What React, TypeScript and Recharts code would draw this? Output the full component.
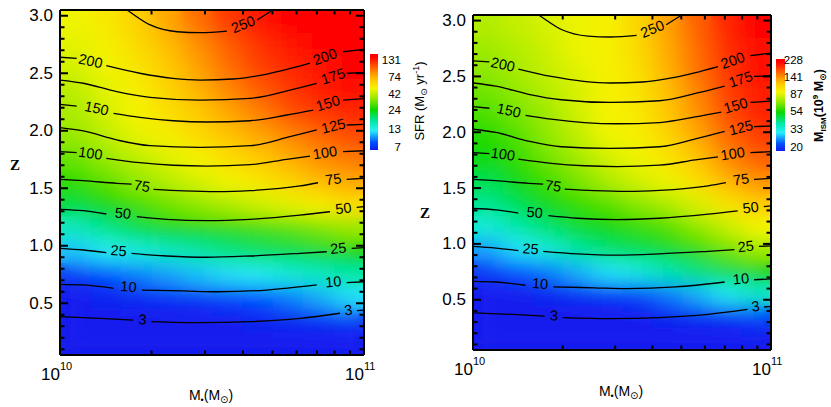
import React from 'react';
import { ComposedChart, Scatter, Line, XAxis, YAxis } from 'recharts';

const SANS = '"Liberation Sans", Arial, "DejaVu Sans", sans-serif';
const SERIF = '"Liberation Serif", "Times New Roman", serif';

// centres of the colour-map cells: stellar mass in 10^10 Msun, redshift
const gridMass = [1.122, 1.413, 1.778, 2.239, 2.818, 3.548, 4.467, 5.623, 7.079, 8.913];
const gridZ = [2.95, 2.75, 2.55, 2.35, 2.15, 1.95, 1.75, 1.55, 1.35, 1.15, 0.95, 0.75, 0.55, 0.35, 0.15];

// SFR (Msun/yr), one row per gridZ entry
const sfrGrid = [
  [45, 49, 56, 67, 83, 99, 111, 118, 122, 126],
  [43, 47, 53, 62, 74, 88, 102, 111, 118, 122],
  [41, 45, 50, 58, 69, 83, 96, 105, 111, 118],
  [38, 43, 47, 55, 64, 76, 88, 99, 108, 115],
  [36, 41, 46, 52, 58, 67, 78, 91, 99, 105],
  [34, 38, 43, 47, 53, 60, 67, 76, 85, 93],
  [30, 34, 38, 42, 46, 52, 58, 65, 74, 80],
  [26, 29, 33, 37, 41, 45, 49, 55, 62, 67],
  [21, 24, 27, 30, 33, 36, 40, 43, 47, 52],
  [15.3, 17.9, 20.7, 23.2, 24.6, 25.4, 26.9, 28.5, 31.1, 34.1],
  [11.4, 12.9, 13.7, 15.3, 16.9, 18.4, 19.6, 20.7, 21.9, 23.9],
  [7.8, 8.6, 9.7, 10.5, 11.4, 12.2, 12.9, 14.1, 15.3, 16.9],
  [7, 7.2, 7.4, 7.6, 7.8, 8.3, 8.8, 9.7, 10.8, 12.2],
  [7, 7, 7, 7, 7, 7, 7.2, 7.3, 7.5, 7.8],
  [7, 7, 7, 7, 7, 7, 7, 7, 7, 7],
];

// M_ISM (10^9 Msun), one row per gridZ entry
const ismGrid = [
  [80, 84, 88, 93, 97, 110, 134, 162, 192, 212],
  [76, 80, 86, 93, 97, 107, 130, 158, 188, 207],
  [73, 78, 84, 90, 97, 105, 127, 155, 183, 202],
  [68, 74, 80, 88, 97, 102, 121, 147, 179, 197],
  [63, 69, 76, 86, 95, 100, 118, 140, 170, 192],
  [58, 64, 73, 82, 93, 97, 110, 130, 158, 179],
  [54, 60, 68, 76, 86, 93, 102, 118, 144, 162],
  [48, 54, 61, 69, 78, 86, 93, 105, 124, 140],
  [43, 48, 54, 60, 64, 71, 78, 88, 102, 115],
  [36, 41, 46, 52, 56, 60, 64, 73, 84, 95],
  [28, 32, 36, 42, 46, 49, 53, 60, 68, 76],
  [22, 24, 26, 29, 32, 35, 40, 45, 50, 56],
  [20, 20, 20.5, 21, 22, 23, 26, 29, 33, 38],
  [20, 20, 20, 20, 20, 20, 20.5, 21, 21.5, 23],
  [20, 20, 20, 20, 20, 20, 20, 20, 20, 20],
];

const sfrBarTicks = [7, 13, 24, 42, 74, 131];
const ismBarTicks = [20, 33, 54, 87, 141, 228];

const massDomain = [1, 10];
const zDomain = [0.05, 3.05];
const massTicks = [1, 2, 3, 4, 5, 6, 7, 8, 9, 10];
const massLabels = [1, 10];
const massExponents = ['10', '11'];
const zTicks = [
  0.1, 0.2, 0.3, 0.4, 0.5, 0.6, 0.7, 0.8, 0.9, 1.0,
  1.1, 1.2, 1.3, 1.4, 1.5, 1.6, 1.7, 1.8, 1.9, 2.0,
  2.1, 2.2, 2.3, 2.4, 2.5, 2.6, 2.7, 2.8, 2.9, 3.0,
];
const zLabels = [0.5, 1.0, 1.5, 2.0, 2.5, 3.0];

// contours [M/1e10, z]; a null z leaves the gap where the level label sits
const contour250 = [[1.55, 3.1], [1.66, 3.05], [1.98, 2.92], [2.43, 2.861], [2.89, 2.853], [3.54, 2.867], [4.0, null], [4.45, 2.963], [4.91, 3.035], [5.37, 3.1]];
const contour200 = [[1, 2.639], [1.135, 2.63], [1.26, null], [1.42, 2.566], [1.83, 2.5], [2.35, 2.456], [2.89, 2.441], [3.71, 2.45], [4.8, 2.493], [6.64, 2.587], [7.44, null], [8.53, 2.687], [10, 2.708]];
const contour175 = [[1, 2.441], [1.193, 2.413], [1.537, 2.34], [1.977, 2.291], [2.89, 2.267], [4.22, 2.282], [5.71, 2.354], [6.99, 2.413], [7.91, null], [8.77, 2.5], [10, 2.505]];
const contour150 = [[1, 2.23], [1.135, 2.215], [1.32, null], [1.5, 2.152], [1.83, 2.117], [2.36, 2.087], [3.04, 2.076], [4.22, 2.087], [5.57, 2.137], [6.81, 2.18], [7.61, null], [8.53, 2.267], [10, 2.279]];
const contour125 = [[1, 2.027], [1.193, 1.998], [1.537, 1.92], [1.977, 1.87], [2.89, 1.856], [4.22, 1.87], [5.71, 1.948], [6.99, 2.007], [7.93, null], [8.77, 2.05], [10, 2.056]];
const contour100 = [[1, 1.818], [1.135, 1.809], [1.26, null], [1.42, 1.76], [1.83, 1.722], [2.36, 1.7], [3.04, 1.693], [4.22, 1.705], [5.57, 1.752], [6.64, 1.78], [7.44, null], [8.53, 1.818], [10, 1.826]];
const contour75 = [[1, 1.578], [1.193, 1.566], [1.537, 1.543], [1.72, 1.535], [1.86, null], [2.03, 1.491], [2.55, 1.477], [3.28, 1.47], [4.22, 1.479], [6.16, 1.52], [7.06, 1.548], [7.93, null], [8.77, 1.578], [10, 1.587]];
const contour50 = [[1, 1.317], [1.193, 1.305], [1.42, 1.276], [1.61, null], [1.79, 1.253], [2.24, 1.23], [3.04, 1.218], [4.22, 1.23], [6.16, 1.267], [7.73, 1.296], [8.55, null], [9.46, 1.334], [10, 1.34]];
const contour25 = [[1, 0.978], [1.193, 0.963], [1.42, 0.94], [1.56, null], [1.72, 0.934], [2.24, 0.911], [3.04, 0.9], [4.22, 0.911], [6.16, 0.934], [7.54, 0.948], [8.23, null], [9.11, 0.978], [10, 0.983]];
const contour10 = [[1, 0.665], [1.193, 0.659], [1.5, 0.63], [1.68, null], [1.86, 0.615], [2.55, 0.607], [3.28, 0.6], [4.79, 0.615], [6.99, 0.659], [7.93, null], [8.77, 0.679], [10, 0.687]];
const contour3 = [[1, 0.383], [1.354, 0.369], [1.74, 0.354], [1.87, null], [2.0, 0.34], [2.89, 0.331], [4.22, 0.34], [6.16, 0.369], [8.34, 0.413], [8.88, null], [9.48, 0.435], [10, 0.44]];
const contours = [contour250, contour200, contour175, contour150, contour125, contour100, contour75, contour50, contour25, contour10, contour3];

const contourLabels = [
  { text: '250', m: 4.0, z: 2.925 },
  { text: '200', m: 1.26, z: 2.607 },
  { text: '200', m: 7.44, z: 2.644 },
  { text: '175', m: 7.91, z: 2.474 },
  { text: '150', m: 1.32, z: 2.195 },
  { text: '150', m: 7.61, z: 2.239 },
  { text: '125', m: 7.93, z: 2.041 },
  { text: '100', m: 1.26, z: 1.804 },
  { text: '100', m: 7.44, z: 1.809 },
  { text: '75', m: 1.86, z: 1.52 },
  { text: '75', m: 7.93, z: 1.578 },
  { text: '50', m: 1.61, z: 1.282 },
  { text: '50', m: 8.55, z: 1.326 },
  { text: '25', m: 1.56, z: 0.957 },
  { text: '25', m: 8.23, z: 0.978 },
  { text: '10', m: 1.68, z: 0.644 },
  { text: '10', m: 7.93, z: 0.687 },
  { text: '3', m: 1.87, z: 0.36 },
  { text: '3', m: 8.88, z: 0.441 },
];
// rotation of each label (deg), same order as contourLabels
const labelTilt = [-22, 12, -20, -18, 12, -17, -14, 8, -9, 8, -8, 5, -7, 4, -6, 4, -5, 3, -8];

// rainbow colour table [t, r, g, b]
const rainbow = [
  [0.0, 18, 28, 238],
  [0.08, 0, 80, 255],
  [0.2, 40, 238, 250],
  [0.3, 0, 232, 165],
  [0.42, 10, 215, 0],
  [0.53, 140, 232, 0],
  [0.64, 245, 245, 0],
  [0.73, 255, 200, 0],
  [0.81, 255, 140, 0],
  [0.89, 255, 70, 0],
  [0.97, 255, 0, 0],
  [1.0, 255, 0, 0],
];

const rampColor = (t: number) => {
  const s = Math.max(0, Math.min(1, t));
  for (let i = 1; i < rainbow.length; i++) {
    if (s <= rainbow[i][0]) {
      const a = rainbow[i - 1];
      const b = rainbow[i];
      const f = (s - a[0]) / (b[0] - a[0]);
      const c = [1, 2, 3].map(k => Math.round(a[k] + (b[k] - a[k]) * f));
      return `rgb(${c[0]},${c[1]},${c[2]})`;
    }
  }
  return 'rgb(255,0,0)';
};

// position of a value on a log colour bar
const barT = (v: number, ticks: number[]) =>
  Math.log(v / ticks[0]) / Math.log(ticks[ticks.length - 1] / ticks[0]);

const toCells = (grid: number[][]) =>
  gridZ.flatMap((z, i) => gridMass.map((m, j) => ({ m, z, v: grid[i][j] })));

// inward tick marks on the four sides of the frame
const bottomMarks = massTicks.map(m => ({ m, z: zDomain[0], major: massLabels.includes(m) }));
const topMarks = massTicks.map(m => ({ m, z: zDomain[1], major: massLabels.includes(m) }));
const leftMarks = zTicks.map(z => ({ m: massDomain[0], z, major: zLabels.includes(z) }));
const rightMarks = zTicks.map(z => ({ m: massDomain[1], z, major: zLabels.includes(z) }));
const frameLine = [
  { m: massDomain[0], z: zDomain[0] },
  { m: massDomain[1], z: zDomain[0] },
  { m: massDomain[1], z: zDomain[1] },
  { m: massDomain[0], z: zDomain[1] },
  { m: massDomain[0], z: zDomain[0] },
];

const axisStyle = { stroke: '#000', strokeWidth: 2 };
const tickStroke = 2;
const majorLen = 8;
const minorLen = 4.5;

const markShape = (dx: number, dy: number) => (p: any) => {
  const len = p.payload.major ? majorLen : minorLen;
  return (
    <path d={`M${p.cx},${p.cy}l${dx * len},${dy * len}`} stroke="#000" strokeWidth={tickStroke} fill="none" />
  );
};

const BottomTick = (p: any) => {
  const { x, y, payload } = p;
  const k = massLabels.indexOf(payload.value);
  if (k < 0) return <g />;
  return (
    <g fontFamily={SANS} fill="#000">
      <text x={x} y={y + 25} fontSize={17} textAnchor="end">10</text>
      <text x={x} y={y + 15} fontSize={11} textAnchor="start">{massExponents[k]}</text>
    </g>
  );
};

const LeftTick = (p: any) => {
  const { x, y, payload } = p;
  if (!zLabels.includes(payload.value)) return <g />;
  return (
    <text x={x - 7} y={y} textAnchor="end" dominantBaseline="central" fontSize={17} fontFamily={SANS} fill="#000">
      {payload.value.toFixed(1)}
    </text>
  );
};

const LevelLabel = (p: any) => {
  const { cx, cy, payload } = p;
  return (
    <text
      x={cx}
      y={cy}
      transform={`rotate(${payload.tilt} ${cx} ${cy})`}
      textAnchor="middle"
      dominantBaseline="central"
      fontSize={14.5}
      fontFamily={SANS}
      fill="#000"
    >
      {payload.text}
    </text>
  );
};

const labelData = contourLabels.map((l, i) => ({ ...l, tilt: labelTilt[i] }));

// the four frame axes; without marks they only reserve the same room
const frameAxes = (marks: boolean) => [
  <XAxis
    key="b"
    dataKey="m"
    type="number"
    scale="log"
    domain={massDomain}
    allowDataOverflow
    ticks={massTicks}
    interval={0}
    height={1}
    tickSize={0}
    tickMargin={0}
    tickLine={false}
    axisLine={marks ? axisStyle : false}
    tick={marks ? BottomTick : false}
  />,
  <XAxis
    key="t"
    xAxisId="top"
    orientation="top"
    type="number"
    scale="log"
    domain={massDomain}
    allowDataOverflow
    ticks={massTicks}
    interval={0}
    height={1}
    tickSize={0}
    tickMargin={0}
    tickLine={false}
    axisLine={marks ? axisStyle : false}
    tick={false}
  />,
  <YAxis
    key="l"
    dataKey="z"
    type="number"
    domain={zDomain}
    allowDataOverflow
    ticks={zTicks}
    interval={0}
    width={1}
    tickSize={0}
    tickMargin={0}
    tickLine={false}
    axisLine={marks ? axisStyle : false}
    tick={marks ? LeftTick : false}
  />,
  <YAxis
    key="r"
    yAxisId="right"
    orientation="right"
    type="number"
    domain={zDomain}
    allowDataOverflow
    ticks={zTicks}
    interval={0}
    width={1}
    tickSize={0}
    tickMargin={0}
    tickLine={false}
    axisLine={marks ? axisStyle : false}
    tick={false}
  />,
];

interface PanelProps {
  left: number;
  width: number;
  height: number;
  margin: { top: number; right: number; bottom: number; left: number };
  grid: number[][];
  barTicks: number[];
}

// each axis takes 1px of room, so the margins are one short of the plot edges
const Panel: React.FC<PanelProps> = ({ left, width, height, margin, grid, barTicks }) => {
  const plotW = width - margin.left - margin.right - 2;
  const plotH = height - margin.top - margin.bottom - 2;
  const cellW = plotW / gridMass.length;
  const cellH = plotH / gridZ.length;
  const cells = toCells(grid);

  const cellShape = (p: any) => (
    <rect
      x={p.cx - cellW / 2}
      y={p.cy - cellH / 2}
      width={cellW + 0.8}
      height={cellH + 0.8}
      fill={rampColor(barT(p.payload.v, barTicks))}
    />
  );

  return (
    <div style={{ position: 'absolute', left, top: 0, width, height }}>
      <div style={{ position: 'absolute', left: 0, top: 0, zIndex: 1 }}>
        <ComposedChart width={width} height={height} margin={margin}>
          <Scatter data={cells} shape={cellShape} isAnimationActive={false} />
          <Scatter data={cells} shape={cellShape} isAnimationActive={false} className="heat-soft" />
          <Scatter data={cells} shape={cellShape} isAnimationActive={false} className="heat-blur" />
          {frameAxes(false)}
        </ComposedChart>
      </div>
      <div style={{ position: 'absolute', left: 0, top: 0, zIndex: 2 }}>
        <ComposedChart width={width} height={height} margin={margin}>
          {contours.map((c, i) => (
            <Line
              key={i}
              data={c.map(([m, z]) => ({ m, z }))}
              dataKey="z"
              type="monotone"
              stroke="#000"
              strokeWidth={1.3}
              dot={false}
              activeDot={false}
              connectNulls={false}
              isAnimationActive={false}
            />
          ))}
          <Line
            data={frameLine}
            dataKey="z"
            type="linear"
            stroke="#000"
            strokeWidth={2}
            dot={false}
            activeDot={false}
            isAnimationActive={false}
          />
          <Scatter data={bottomMarks} shape={markShape(0, -1)} isAnimationActive={false} />
          <Scatter data={topMarks} shape={markShape(0, 1)} isAnimationActive={false} />
          <Scatter data={leftMarks} shape={markShape(1, 0)} isAnimationActive={false} />
          <Scatter data={rightMarks} shape={markShape(-1, 0)} isAnimationActive={false} />
          <Scatter data={labelData} shape={LevelLabel} isAnimationActive={false} />
          {frameAxes(true)}
        </ComposedChart>
      </div>
    </div>
  );
};

const ColorBar: React.FC<{ x: number; y: number; w: number; h: number; ticks: number[]; labelX: number }> = ({
  x, y, w, h, ticks, labelX,
}) => (
  <g>
    <rect x={x} y={y} width={w} height={h} fill="url(#rampV)" />
    {ticks.map(v => (
      <text
        key={v}
        x={labelX}
        y={147 - 87 * barT(v, ticks)}
        textAnchor="end"
        dominantBaseline="central"
        fontSize={11.5}
        fontFamily={SANS}
        fill="#000"
      >
        {v}
      </text>
    ))}
  </g>
);

export default function App() {
  return (
    <div style={{ position: 'absolute', left: 0, top: 0, width: 831, height: 407, background: '#fff', overflow: 'hidden' }}>
      <style>{'.heat-blur { filter: url(#heatBlur); } .heat-soft { filter: url(#heatSoft); }'}</style>
      <Panel
        left={0}
        width={410}
        height={407}
        margin={{ top: 9, right: 45, bottom: 51, left: 59 }}
        grid={sfrGrid}
        barTicks={sfrBarTicks}
      />
      <Panel
        left={410}
        width={421}
        height={407}
        margin={{ top: 14, right: 59, bottom: 56, left: 62 }}
        grid={ismGrid}
        barTicks={ismBarTicks}
      />
      <svg
        width={831}
        height={407}
        style={{ position: 'absolute', left: 0, top: 0, pointerEvents: 'none', overflow: 'visible', zIndex: 3 }}
      >
        <defs>
          <filter id="heatBlur" x="-15%" y="-15%" width="130%" height="130%">
            <feGaussianBlur stdDeviation="12 10" />
          </filter>
          <filter id="heatSoft" x="-10%" y="-10%" width="120%" height="120%">
            <feGaussianBlur stdDeviation="5 4" />
          </filter>
          <linearGradient id="rampV" x1="0" y1="1" x2="0" y2="0">
            {rainbow.map(s => (
              <stop key={s[0]} offset={s[0]} stopColor={`rgb(${s[1]},${s[2]},${s[3]})`} />
            ))}
          </linearGradient>
        </defs>

        <ColorBar x={370} y={54} w={8} h={96} ticks={sfrBarTicks} labelX={401} />
        <ColorBar x={776} y={59} w={9} h={92} ticks={ismBarTicks} labelX={803} />

        <text transform="rotate(-90 424 101)" x={424} y={101} textAnchor="middle" fontSize={13} fontFamily={SANS} fill="#000">
          SFR (M<tspan fontSize={9} dy={3}>⊙</tspan>
          <tspan dy={-3}> yr</tspan>
          <tspan fontSize={9} dy={-5}>-1</tspan>
          <tspan dy={5}>)</tspan>
        </text>
        <text transform="rotate(-90 823 105.5)" x={823} y={105.5} textAnchor="middle" fontSize={12.5} fontWeight="bold" fontFamily={SANS} fill="#000">
          M<tspan fontSize={8} dy={3}>ISM</tspan>
          <tspan dy={-3}>(10</tspan>
          <tspan fontSize={8} dy={-5}>9</tspan>
          <tspan dy={5}> M</tspan>
          <tspan fontSize={9} dy={3}>⊙</tspan>
          <tspan dy={-3}>)</tspan>
        </text>

        <text x={15} y={165} textAnchor="middle" dominantBaseline="central" fontSize={15} fontWeight="bold" fontFamily={SERIF} fill="#000">Z</text>
        <text x={425} y={213} textAnchor="middle" dominantBaseline="central" fontSize={15} fontWeight="bold" fontFamily={SERIF} fill="#000">Z</text>

        <text x={211} y={399.5} textAnchor="middle" fontSize={14} fontFamily={SANS} fill="#000">
          M<tspan fontSize={9} dy={3}>•</tspan>
          <tspan dy={-3}>(M</tspan>
          <tspan fontSize={10} dy={3}>⊙</tspan>
          <tspan dy={-3}>)</tspan>
        </text>
        <text x={621} y={396} textAnchor="middle" fontSize={14} fontFamily={SANS} fill="#000">
          M<tspan fontSize={9} dy={3}>•</tspan>
          <tspan dy={-3}>(M</tspan>
          <tspan fontSize={10} dy={3}>⊙</tspan>
          <tspan dy={-3}>)</tspan>
        </text>
      </svg>
    </div>
  );
}
